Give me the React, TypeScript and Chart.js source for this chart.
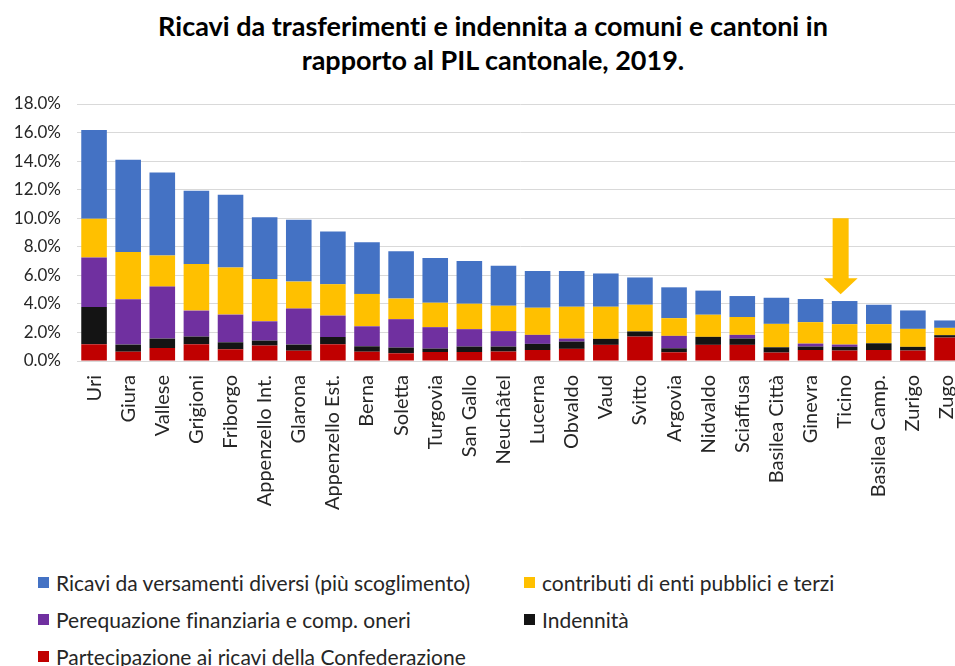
import React, { useEffect, useRef } from "react";
import { Chart, registerables } from "chart.js";

Chart.register(...registerables);

const TITLE_LINES = [
  "Ricavi da trasferimenti e indennita a comuni e cantoni in",
  "rapporto al PIL cantonale, 2019.",
];

const CATEGORIES = [
  "Uri", "Giura", "Vallese", "Grigioni", "Friborgo", "Appenzello Int.", "Glarona",
  "Appenzello Est.", "Berna", "Soletta", "Turgovia", "San Gallo", "Neuchâtel",
  "Lucerna", "Obvaldo", "Vaud", "Svitto", "Argovia", "Nidvaldo", "Sciaffusa",
  "Basilea Città", "Ginevra", "Ticino", "Basilea Camp.", "Zurigo", "Zugo",
];

// Stacked from bottom to top (values in % of cantonal GDP)
const PARTECIPAZIONE = [1.17, 0.65, 0.91, 1.17, 0.82, 1.08, 0.72, 1.17, 0.65, 0.54, 0.63, 0.63, 0.66, 0.77, 0.85, 1.13, 1.71, 0.61, 1.13, 1.13, 0.59, 0.77, 0.73, 0.77, 0.73, 1.64];
const INDENNITA = [2.62, 0.50, 0.66, 0.54, 0.49, 0.35, 0.43, 0.51, 0.38, 0.40, 0.24, 0.38, 0.35, 0.43, 0.51, 0.42, 0.36, 0.28, 0.56, 0.44, 0.37, 0.24, 0.26, 0.47, 0.26, 0.17];
const PEREQUAZIONE = [3.46, 3.17, 3.64, 1.82, 1.94, 1.35, 2.52, 1.50, 1.40, 1.99, 1.50, 1.22, 1.08, 0.63, 0.21, 0, 0, 0.87, 0, 0.26, 0, 0.21, 0.16, 0, 0, 0];
const CONTRIBUTI = [2.71, 3.32, 2.18, 3.27, 3.30, 2.97, 1.89, 2.20, 2.27, 1.44, 1.71, 1.78, 1.78, 1.90, 2.23, 2.25, 1.87, 1.24, 1.55, 1.25, 1.64, 1.50, 1.43, 1.34, 1.26, 0.51];
const RICAVI = [6.22, 6.46, 5.82, 5.12, 5.09, 4.32, 4.33, 3.69, 3.62, 3.31, 3.13, 2.99, 2.80, 2.58, 2.51, 2.33, 1.91, 2.16, 1.69, 1.47, 1.83, 1.62, 1.62, 1.36, 1.29, 0.52];

const SERIES_LABELS = {
  ricavi: "Ricavi da versamenti diversi (più scoglimento)",
  contributi: "contributi di enti pubblici e terzi",
  perequazione: "Perequazione finanziaria e comp. oneri",
  indennita: "Indennità",
  partecipazione: "Partecipazione ai ricavi della Confederazione",
};

const COLORS = {
  ricavi: "#4472C4",
  contributi: "#FFC000",
  perequazione: "#7030A0",
  indennita: "#141414",
  partecipazione: "#C00000",
};

const Y_MIN = 0;
const Y_MAX = 18;
const Y_STEP = 2;

const ARROW_CATEGORY = "Ticino";
const ARROW_FROM = 10;
const ARROW_TO = 4.68;

const LEGEND_ORDER: (keyof typeof SERIES_LABELS)[] = [
  "ricavi", "contributi", "perequazione", "indennita", "partecipazione",
];

const CANVAS_W = 977;
const CANVAS_H = 560;

export default function App() {
  const ref = useRef<HTMLCanvasElement | null>(null);

  useEffect(() => {
    if (!ref.current) return;
    const arrowPlugin = {
      id: "arrowPlugin",
      afterDatasetsDraw(chart: any) {
        const { ctx, scales } = chart;
        const x = scales.x;
        const y = scales.y;
        const idx = CATEGORIES.indexOf(ARROW_CATEGORY);
        const cx = x.getPixelForValue(idx) - 4;
        const yTop = y.getPixelForValue(ARROW_FROM);
        const yTip = y.getPixelForValue(ARROW_TO);
        const headH = 16;
        const shaftW = 16;
        const headW = 34;
        ctx.save();
        ctx.fillStyle = COLORS.contributi;
        ctx.beginPath();
        ctx.moveTo(cx - shaftW / 2, yTop);
        ctx.lineTo(cx + shaftW / 2, yTop);
        ctx.lineTo(cx + shaftW / 2, yTip - headH);
        ctx.lineTo(cx + headW / 2, yTip - headH);
        ctx.lineTo(cx, yTip);
        ctx.lineTo(cx - headW / 2, yTip - headH);
        ctx.lineTo(cx - shaftW / 2, yTip - headH);
        ctx.closePath();
        ctx.fill();
        ctx.restore();
      },
    };

    const mk = (key: keyof typeof SERIES_LABELS, data: number[]) => ({
      label: SERIES_LABELS[key],
      data,
      backgroundColor: COLORS[key],
      borderWidth: 0,
      barPercentage: 0.75,
      categoryPercentage: 1,
      stack: "s",
    });

    const chart = new Chart(ref.current, {
      type: "bar",
      data: {
        labels: CATEGORIES,
        datasets: [
          mk("partecipazione", PARTECIPAZIONE),
          mk("indennita", INDENNITA),
          mk("perequazione", PEREQUAZIONE),
          mk("contributi", CONTRIBUTI),
          mk("ricavi", RICAVI),
        ],
      },
      options: {
        responsive: false,
        maintainAspectRatio: false,
        animation: false,
        layout: { padding: { top: 104, left: 0, right: 0, bottom: 0 } },
        plugins: {
          legend: { display: false },
          title: { display: false },
          tooltip: { enabled: false },
        },
        scales: {
          x: {
            stacked: true,
            grid: { display: false },
            border: { display: false },
            ticks: {
              autoSkip: false,
              maxRotation: 90,
              minRotation: 90,
              padding: 6,
              color: "#262626",
              font: { family: "Lato", size: 20 },
            },
            afterFit: (scale: any) => {
              scale.height = CANVAS_H - 361;
            },
          },
          y: {
            stacked: true,
            min: Y_MIN,
            max: Y_MAX,
            grid: { color: "#D9D9D9", lineWidth: 1, drawTicks: false },
            border: { display: false },
            ticks: {
              stepSize: Y_STEP,
              padding: 16,
              color: "#262626",
              font: { family: "Lato", size: 17 },
              callback: (v: any) => Number(v).toFixed(1) + "%",
            },
            afterFit: (scale: any) => {
              scale.width = 77;
            },
          },
        },
      },
      plugins: [arrowPlugin],
    } as any);
    return () => chart.destroy();
  }, []);

  return (
    <div
      style={{
        position: "fixed",
        left: 0,
        top: 0,
        width: 955,
        height: 666,
        overflow: "hidden",
        background: "#fff",
      }}
    >
      <div
        style={{
          position: "absolute",
          top: 9,
          left: 0,
          width: 986,
          textAlign: "center",
          fontFamily: "Lato, sans-serif",
          fontWeight: 700,
          fontSize: 27,
          lineHeight: "34px",
          color: "#000",
          fontVariantLigatures: "none",
          fontFeatureSettings: '"liga" 0, "dlig" 0',
        }}
      >
        {TITLE_LINES.map((t, i) => (
          <div key={i}>{t}</div>
        ))}
      </div>
      <canvas
        ref={ref}
        width={CANVAS_W}
        height={CANVAS_H}
        style={{ position: "absolute", left: 0, top: 0, width: CANVAS_W, height: CANVAS_H }}
      />
      <div
        style={{
          position: "absolute",
          left: 38,
          top: 564,
          display: "grid",
          gridTemplateColumns: "486px auto",
          rowGap: 0,
          fontFamily: "Lato, sans-serif",
          fontSize: 21,
          color: "#262626",
          fontVariantLigatures: "none",
          fontFeatureSettings: '"liga" 0, "dlig" 0',
        }}
      >
        {LEGEND_ORDER.map((k) => (
          <div key={k} style={{ display: "flex", alignItems: "center", height: 37 }}>
            <span
              style={{
                display: "inline-block",
                width: 11,
                height: 11,
                background: COLORS[k],
                marginRight: 7,
              }}
            />
            <span>{SERIES_LABELS[k]}</span>
          </div>
        ))}
      </div>
    </div>
  );
}
